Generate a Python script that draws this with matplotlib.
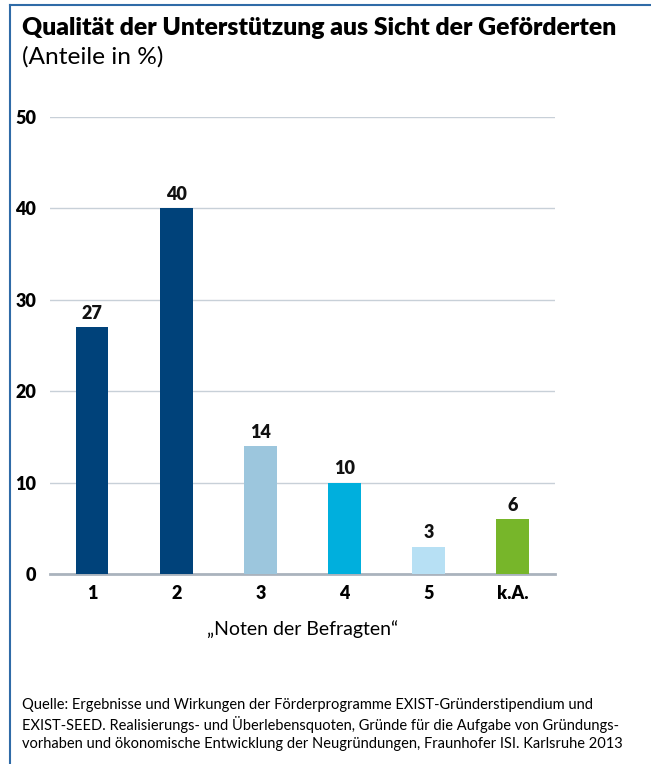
import matplotlib
matplotlib.use('Agg')
import matplotlib.pyplot as plt
from matplotlib.lines import Line2D

plt.rcParams['font.family'] = ['Lato', 'DejaVu Sans']

# Daten
categories = ['1', '2', '3', '4', '5', 'k.A.']
values = [27, 40, 14, 10, 3, 6]
colors = ['#00427a', '#00427a', '#9cc6dd', '#00afdd', '#b7e0f4', '#77b62a']
yticks = [0, 10, 20, 30, 40, 50]

fig = plt.figure(figsize=(6.51, 7.64), dpi=100)
ax = fig.add_axes([0.0768, 0.2487, 0.7757, 0.598])

x = range(len(categories))
ax.bar(x, values, width=0.39, color=colors, zorder=3)
for xi, v in zip(x, values):
    ax.text(xi, v + 0.6, str(v), ha='center', va='bottom', fontsize=13,
            fontweight='heavy', color='#111111')

ax.set_xlim(-0.5, 5.5)
ax.set_ylim(0, 50)
ax.set_yticks(yticks)
ax.set_yticklabels([str(t) for t in yticks], fontsize=13, fontweight='heavy')
ax.set_xticks(list(x))
ax.set_xticklabels(categories, fontsize=13, fontweight='heavy')
ax.tick_params(length=0)
ax.tick_params(axis='y', pad=10)
ax.tick_params(axis='x', pad=8)
ax.grid(axis='y', color='#c8d0d8', linewidth=1, zorder=0)
for s in ['top', 'right', 'left']:
    ax.spines[s].set_visible(False)
ax.spines['bottom'].set_color('#aab3bd')
ax.spines['bottom'].set_linewidth(2)
ax.set_xlabel('„Noten der Befragten“', fontsize=14, labelpad=13)

fig.text(0.034, 0.978, 'Qualität der Unterstützung aus Sicht der Geförderten',
         fontsize=17.8, fontweight='heavy', va='top')
fig.text(0.034, 0.940, '(Anteile in %)', fontsize=17.6, va='top')

src = ('Quelle: Ergebnisse und Wirkungen der Förderprogramme EXIST-Gründerstipendium und\n'
       'EXIST-SEED. Realisierungs- und Überlebensquoten, Gründe für die Aufgabe von Gründungs-\n'
       'vorhaben und ökonomische Entwicklung der Neugründungen, Fraunhofer ISI. Karlsruhe 2013')
fig.text(0.034, 0.086, src, fontsize=10.5, va='top', linespacing=1.3)

# Rahmen
fig.add_artist(Line2D([0.016, 0.016], [0, 0.994], transform=fig.transFigure,
                      color='#2f6ba7', linewidth=1.5))
fig.add_artist(Line2D([0.016, 1.0], [0.994, 0.994], transform=fig.transFigure,
                      color='#2f6ba7', linewidth=1.5))

fig.savefig('out.png', dpi=100)
